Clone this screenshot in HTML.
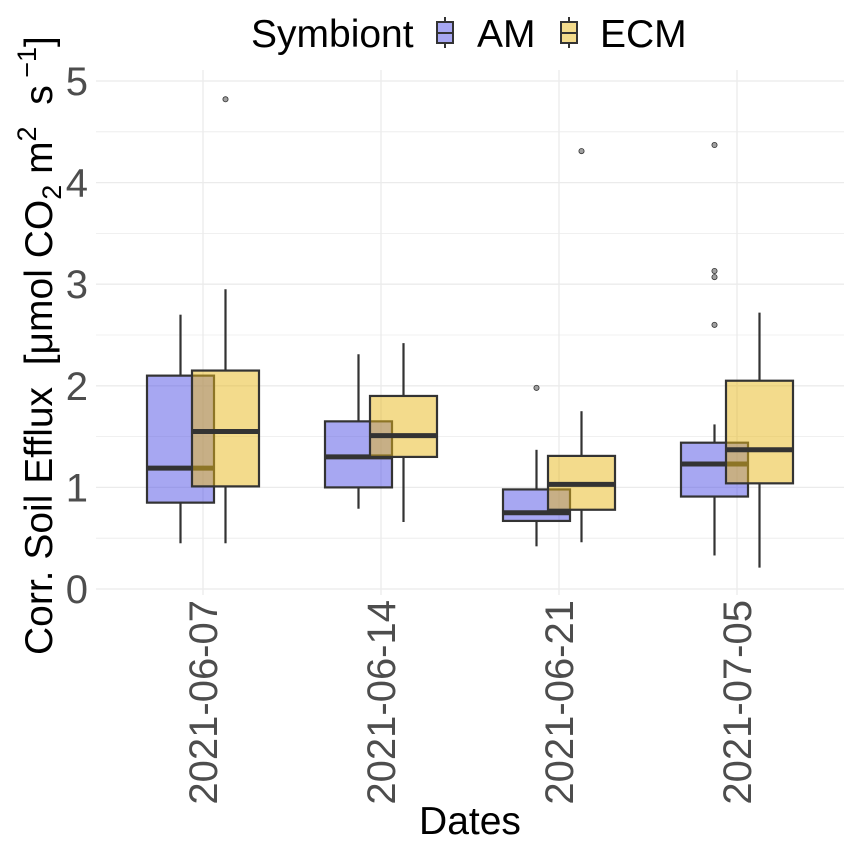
<!DOCTYPE html>
<html><head><meta charset="utf-8"><style>body{margin:0;background:#fff}svg{font-family:"Liberation Sans",sans-serif}</style></head>
<body>
<svg id="c" width="850" height="850"></svg>
<script>
const categories=["2021-06-07","2021-06-14","2021-06-21","2021-07-05"];
const amStats=[[0.45,0.85,1.19,2.1,2.7],[0.79,1.0,1.3,1.65,2.31],[0.42,0.67,0.75,0.98,1.37],[0.33,0.91,1.23,1.44,1.62]];
const ecmStats=[[0.45,1.01,1.55,2.15,2.95],[0.66,1.3,1.51,1.9,2.42],[0.46,0.78,1.03,1.31,1.75],[0.21,1.04,1.37,2.05,2.72]];
const amOutliers=[[],[],[1.98],[2.6,3.07,3.13,4.37]];
const ecmOutliers=[[4.82],[],[4.31],[]];
const yTicks=[0,1,2,3,4,5];
const NS="http://www.w3.org/2000/svg",svg=document.getElementById('c');
function el(t,a,p){const e=document.createElementNS(NS,t);for(const k in a)e.setAttribute(k,a[k]);(p||svg).appendChild(e);return e;}
const y=v=>589-v*101.6, x=i=>203+i*178;
const L=96,R=844,T=70;
const grid=el('g',{});


for(let v=0;v<=5;v+=0.5)el('line',{x1:L,x2:R,y1:y(v),y2:y(v),stroke:'#ebebeb','stroke-width':v%1?0.8:1.3},grid);
categories.forEach((c,i)=>el('line',{x1:x(i),x2:x(i),y1:T,y2:595,stroke:'#ebebeb','stroke-width':1.3},grid));
yTicks.forEach(v=>{const t=el('text',{x:88,y:y(v)+14,'text-anchor':'end','font-size':40,fill:'#4d4d4d'});t.textContent=v;

});
categories.forEach((c,i)=>{const t=el('text',{transform:`translate(${x(i)+14},600) rotate(-90)`,'text-anchor':'end','font-size':40,fill:'#4d4d4d'});t.textContent=c;

});
function box(s,cx,fill,name,outs){const g=el('g',{});


const w=67,x0=cx-w/2;
el('line',{x1:cx,x2:cx,y1:y(s[0]),y2:y(s[1]),stroke:'#333','stroke-width':2.2},g);
el('line',{x1:cx,x2:cx,y1:y(s[3]),y2:y(s[4]),stroke:'#333','stroke-width':2.2},g);
el('rect',{x:x0,y:y(s[3]),width:w,height:y(s[1])-y(s[3]),fill:fill,'fill-opacity':0.5,stroke:'#333','stroke-width':2.2},g);
el('line',{x1:x0,x2:x0+w,y1:y(s[2]),y2:y(s[2]),stroke:'#333','stroke-width':5},g);
outs.forEach(o=>el('circle',{cx:cx,cy:y(o),r:2.6,fill:'#888','fill-opacity':0.8,stroke:'#333','stroke-width':0.8},g));}
categories.forEach((c,i)=>{box(amStats[i],x(i)-22.5,'#4f4fe6','box-am-'+c,amOutliers[i]);box(ecmStats[i],x(i)+22.5,'#e8b81a','box-ecm-'+c,ecmOutliers[i]);});
const xt=el('text',{x:470,y:834,'text-anchor':'middle','font-size':39,fill:'#000'});xt.textContent='Dates';


const yt=el('text',{transform:'translate(52,655) rotate(-90)','font-size':39,fill:'#000',style:'white-space:pre'});


yt.innerHTML='Corr. Soil Efflux  [μmol CO<tspan font-size="27" dy="9">2</tspan><tspan dy="-9"> m</tspan><tspan font-size="27" dy="-16">2</tspan><tspan dy="16">  s</tspan><tspan font-size="27" dy="-16"> −1</tspan><tspan dy="16">]</tspan>';
const lg=el('g',{});


const lt=el('text',{x:251,y:47,'font-size':39,fill:'#000'},lg);lt.textContent='Symbiont';
function key(x0,fill,label,lx,nm){const k=el('g',{},lg);


el('line',{x1:x0+8,x2:x0+8,y1:17,y2:48,stroke:'#333','stroke-width':2},k);
el('rect',{x:x0,y:22,width:16,height:21,fill:fill,stroke:'#333','stroke-width':2},k);
el('line',{x1:x0,x2:x0+16,y1:33,y2:33,stroke:'#333','stroke-width':2},k);
const t=el('text',{x:lx,y:47,'font-size':39,fill:'#000'},k);t.textContent=label;}
key(437,'#a7a7f2','AM',477,'am');key(561,'#f3db8c','ECM',600,'ecm');
</script>
</body></html>
